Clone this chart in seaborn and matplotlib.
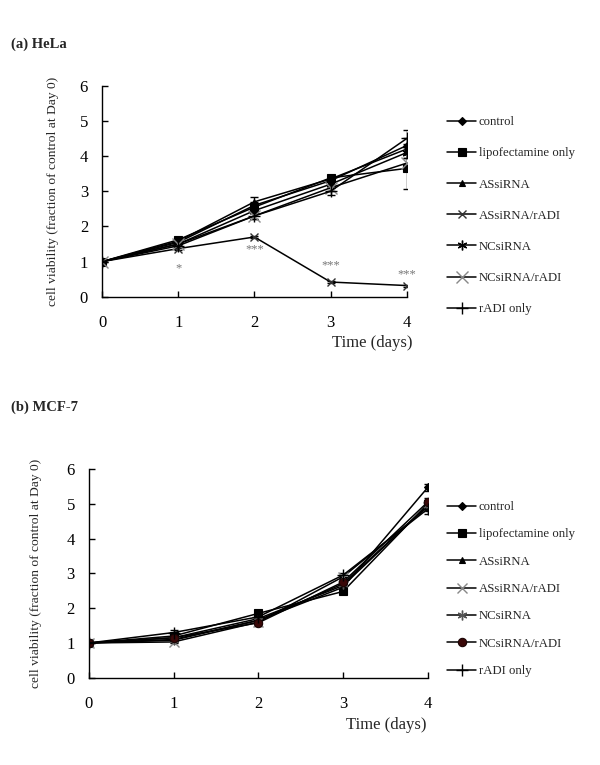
import numpy as np
import pandas as pd
import matplotlib
matplotlib.use("Agg")
import matplotlib.pyplot as plt
import seaborn as sns

sns.set_style("white")
plt.rcParams['font.family'] = ['Liberation Serif', 'DejaVu Serif']

days = [0, 1, 2, 3, 4]
series_names = ["control", "lipofectamine only", "ASsiRNA", "ASsiRNA/rADI",
                "NCsiRNA", "NCsiRNA/rADI", "rADI only"]

# (a) HeLa
hela_control = [1, 1.55, 2.60, 3.30, 4.30]
hela_lipo = [1, 1.62, 2.55, 3.38, 3.65]
hela_assi = [1, 1.58, 2.70, 3.35, 4.20]
hela_assi_radi = [1, 1.37, 1.70, 0.42, 0.32]
hela_ncsi = [1, 1.50, 2.45, 3.20, 4.10]
hela_ncsi_radi = [1, 1.50, 2.30, 3.10, 3.80]
hela_radi = [1, 1.45, 2.30, 3.00, 4.50]

hela_err_control = [0, 0.05, 0.10, 0.08, 0.20]
hela_err_lipo = [0, 0.05, 0.08, 0.05, 0.60]
hela_err_assi = [0, 0.05, 0.15, 0.05, 0.15]
hela_err_assi_radi = [0, 0.05, 0.04, 0.03, 0.03]
hela_err_ncsi = [0, 0.05, 0.08, 0.05, 0.15]
hela_err_ncsi_radi = [0, 0.05, 0.08, 0.08, 0.15]
hela_err_radi = [0, 0.05, 0.10, 0.10, 0.25]

hela_sig_days = [1, 2, 3, 4]
hela_sig_labels = ["*", "***", "***", "***"]
hela_sig_y = [0.80, 1.35, 0.90, 0.65]

# (b) MCF-7
mcf_control = [1, 1.10, 1.65, 2.60, 5.47]
mcf_lipo = [1, 1.20, 1.85, 2.48, 5.00]
mcf_assi = [1, 1.15, 1.70, 2.65, 4.95]
mcf_assi_radi = [1, 1.03, 1.60, 2.90, 4.90]
mcf_ncsi = [1, 1.08, 1.65, 2.70, 4.95]
mcf_ncsi_radi = [1, 1.15, 1.58, 2.75, 5.05]
mcf_radi = [1, 1.30, 1.75, 2.95, 4.85]

mcf_err_control = [0, 0.04, 0.05, 0.05, 0.10]
mcf_err_lipo = [0, 0.05, 0.06, 0.05, 0.12]
mcf_err_assi = [0, 0.04, 0.05, 0.05, 0.12]
mcf_err_assi_radi = [0, 0.04, 0.05, 0.05, 0.12]
mcf_err_ncsi = [0, 0.04, 0.05, 0.05, 0.12]
mcf_err_ncsi_radi = [0, 0.04, 0.10, 0.05, 0.12]
mcf_err_radi = [0, 0.08, 0.05, 0.05, 0.15]

hela_vals = [hela_control, hela_lipo, hela_assi, hela_assi_radi, hela_ncsi, hela_ncsi_radi, hela_radi]
hela_errs = [hela_err_control, hela_err_lipo, hela_err_assi, hela_err_assi_radi, hela_err_ncsi, hela_err_ncsi_radi, hela_err_radi]
mcf_vals = [mcf_control, mcf_lipo, mcf_assi, mcf_assi_radi, mcf_ncsi, mcf_ncsi_radi, mcf_radi]
mcf_errs = [mcf_err_control, mcf_err_lipo, mcf_err_assi, mcf_err_assi_radi, mcf_err_ncsi, mcf_err_ncsi_radi, mcf_err_radi]

ast = (6, 2, 0)
hela_styles = [
    dict(marker='D', ms=4, mfc='black', mec='black'),
    dict(marker='s', ms=6, mfc='black', mec='black'),
    dict(marker='^', ms=5, mfc='black', mec='black'),
    dict(marker='x', ms=6, mfc='black', mec='#333333', mew=1.0),
    dict(marker=ast, ms=7, mfc='black', mec='black', mew=1.0),
    dict(marker='x', ms=8, mfc='#888888', mec='#888888', mew=1.0),
    dict(marker='+', ms=9, mfc='black', mec='black', mew=1.0),
]
mcf_styles = [
    dict(marker='D', ms=4, mfc='black', mec='black'),
    dict(marker='s', ms=6, mfc='black', mec='black'),
    dict(marker='^', ms=5, mfc='black', mec='black'),
    dict(marker='x', ms=7, mfc='#888888', mec='#888888', mew=1.0),
    dict(marker=ast, ms=7, mfc='#555555', mec='#555555', mew=1.0),
    dict(marker='o', ms=6, mfc='#3a0808', mec='#1a0404'),
    dict(marker='+', ms=9, mfc='black', mec='black', mew=1.0),
]

fig = plt.figure(figsize=(6.0, 7.65), dpi=100)
ax1 = fig.add_axes([0.170, 0.612, 0.508, 0.276])
ax2 = fig.add_axes([0.148, 0.114, 0.565, 0.273])


def draw(ax, vals, errs, styles, lpad):
    for name, v, e, st in zip(series_names, vals, errs, styles):
        df = pd.DataFrame({"day": days, "val": v})
        sns.lineplot(data=df, x="day", y="val", ax=ax, color='black', lw=1.1,
                     marker=st['marker'], markersize=st['ms'],
                     markerfacecolor=st['mfc'], markeredgecolor=st['mec'],
                     markeredgewidth=st.get('mew', 0.8), label=name,
                     legend=False, zorder=3)
        ax.errorbar(days, v, yerr=e, fmt='none', ecolor='black', elinewidth=1.0,
                    capsize=3, capthick=1.0, zorder=2)
    ax.set_xlim(0, 4)
    ax.set_ylim(0, 6)
    ax.set_xticks(days)
    ax.set_yticks([0, 1, 2, 3, 4, 5, 6])
    ax.tick_params(axis='both', direction='in', length=4, width=1, labelsize=12,
                   colors='black', left=True, bottom=True)
    ax.tick_params(axis='y', pad=10)
    ax.tick_params(axis='x', pad=13)
    for s in ['top', 'right']:
        ax.spines[s].set_visible(False)
    for s in ['left', 'bottom']:
        ax.spines[s].set_color('black')
        ax.spines[s].set_linewidth(1.0)
    ax.set_xlabel("")
    ax.set_ylabel("cell viability (fraction of control at Day 0)", fontsize=9.7,
                  labelpad=lpad)
    ax.patch.set_alpha(0)


draw(ax1, hela_vals, hela_errs, hela_styles, 15)
draw(ax2, mcf_vals, mcf_errs, mcf_styles, 18)

for d, lab, yv in zip(hela_sig_days, hela_sig_labels, hela_sig_y):
    ax1.text(d, yv, lab, ha='center', va='center', fontsize=9, color='#777777')

h1, l1 = ax1.get_legend_handles_labels()
fig.legend(h1, l1, loc='upper left', bbox_to_anchor=(0.745, 0.848), frameon=False,
           fontsize=9.2, labelspacing=1.5, handlelength=2.3, handletextpad=0.2,
           borderaxespad=0, borderpad=0)
h2, l2 = ax2.get_legend_handles_labels()
fig.legend(h2, l2, loc='upper left', bbox_to_anchor=(0.745, 0.345), frameon=False,
           fontsize=9.2, labelspacing=1.2, handlelength=2.3, handletextpad=0.2,
           borderaxespad=0, borderpad=0)

fig.text(0.018, 0.942, "(a) HeLa", fontsize=10.5, fontweight='bold', va='center')
fig.text(0.018, 0.468, "(b) MCF-7", fontsize=10.5, fontweight='bold', va='center')
fig.text(0.620, 0.551, "Time (days)", fontsize=12, va='center', ha='center')
fig.text(0.643, 0.052, "Time (days)", fontsize=12, va='center', ha='center')

fig.savefig("out.png", dpi=100)
